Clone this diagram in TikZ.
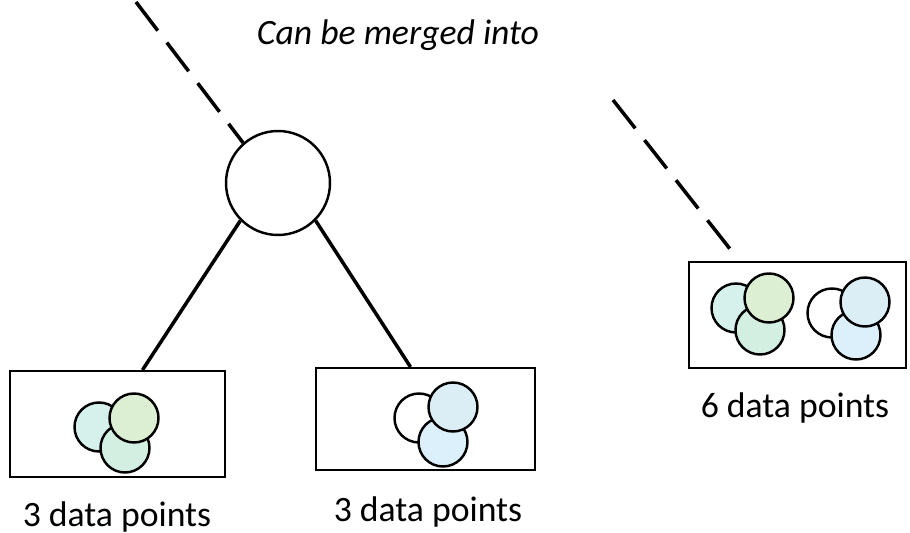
\documentclass[tikz,border=0pt]{standalone}
\usepackage{fontspec}
\setmainfont{Carlito}
\usepackage{tikz}
\usetikzlibrary{positioning}

\definecolor{tealdot}{HTML}{D6F1EC}
\definecolor{greendot}{HTML}{DDEFD2}
\definecolor{mintdot}{HTML}{D3EFE1}
\definecolor{bluedot}{HTML}{DCEEF5}
\definecolor{skydot}{HTML}{DCF0FB}

\begin{document}
\begin{tikzpicture}[x=0.02cm, y=-0.02cm,
    leaf/.style={draw, line width=1.2pt, minimum width=4.3cm, minimum height=2.12cm, inner sep=0pt},
    root/.style={draw, circle, line width=1.4pt, minimum size=2.08cm, inner sep=0pt},
    dot/.style={draw, circle, line width=1.4pt, minimum size=0.98cm, inner sep=0pt},
    edge/.style={line width=2pt},
    merge/.style={line width=2pt, dash pattern=on 0.72cm off 0.3cm},
    lbl/.style={font=\fontsize{20.3}{24}\selectfont},
]
\useasboundingbox (0,0) rectangle (910,533);
\node[lbl, font=\fontsize{20.3}{24}\selectfont\itshape] (title) at (398,35) {Can be merged into};
% tree
\node[root] (top) at (278,183) {};
\node[leaf] (lbox) at (117.5,424) {};
\node[leaf, minimum width=4.38cm, minimum height=2.04cm] (mbox) at (425.5,419) {};
\node[leaf, minimum width=4.34cm] (rbox) at (797.5,315) {};
\draw[edge] (top.225) -- ([xshift=0.5cm]lbox.north);
\draw[edge] (top.315) -- ([xshift=-0.3cm]mbox.north);
\coordinate (m1) at (136,2);
\coordinate (m2) at (613,100);
\draw[merge] (m1) -- (top.131);
\draw[merge] (m2) -- ([xshift=-1.35cm,yshift=0.24cm]rbox.north);
% points in the leaves
\node[dot, fill=tealdot] (l1) at (99,427) {};
\node[dot, fill=mintdot] (l3) at (125,448) {};
\node[dot, fill=greendot] (l2) at (134,418) {};
\node[dot, fill=white] (m1d) at (419,418) {};
\node[dot, fill=skydot] (m3d) at (443,442) {};
\node[dot, fill=bluedot] (m2d) at (453,407) {};
\node[dot, fill=tealdot] (r1) at (736,308) {};
\node[dot, fill=mintdot] (r3) at (760,330) {};
\node[dot, fill=greendot] (r2) at (769,298) {};
\node[dot, fill=white] (r4) at (832,313) {};
\node[dot, fill=skydot] (r6) at (856,335) {};
\node[dot, fill=bluedot] (r5) at (865,302) {};
% counts
\node[lbl] (lcount) at (117,517) {3 data points};
\node[lbl] (mcount) at (428,512) {3 data points};
\node[lbl] (rcount) at (795,408) {6 data points};
\end{tikzpicture}
\end{document}
